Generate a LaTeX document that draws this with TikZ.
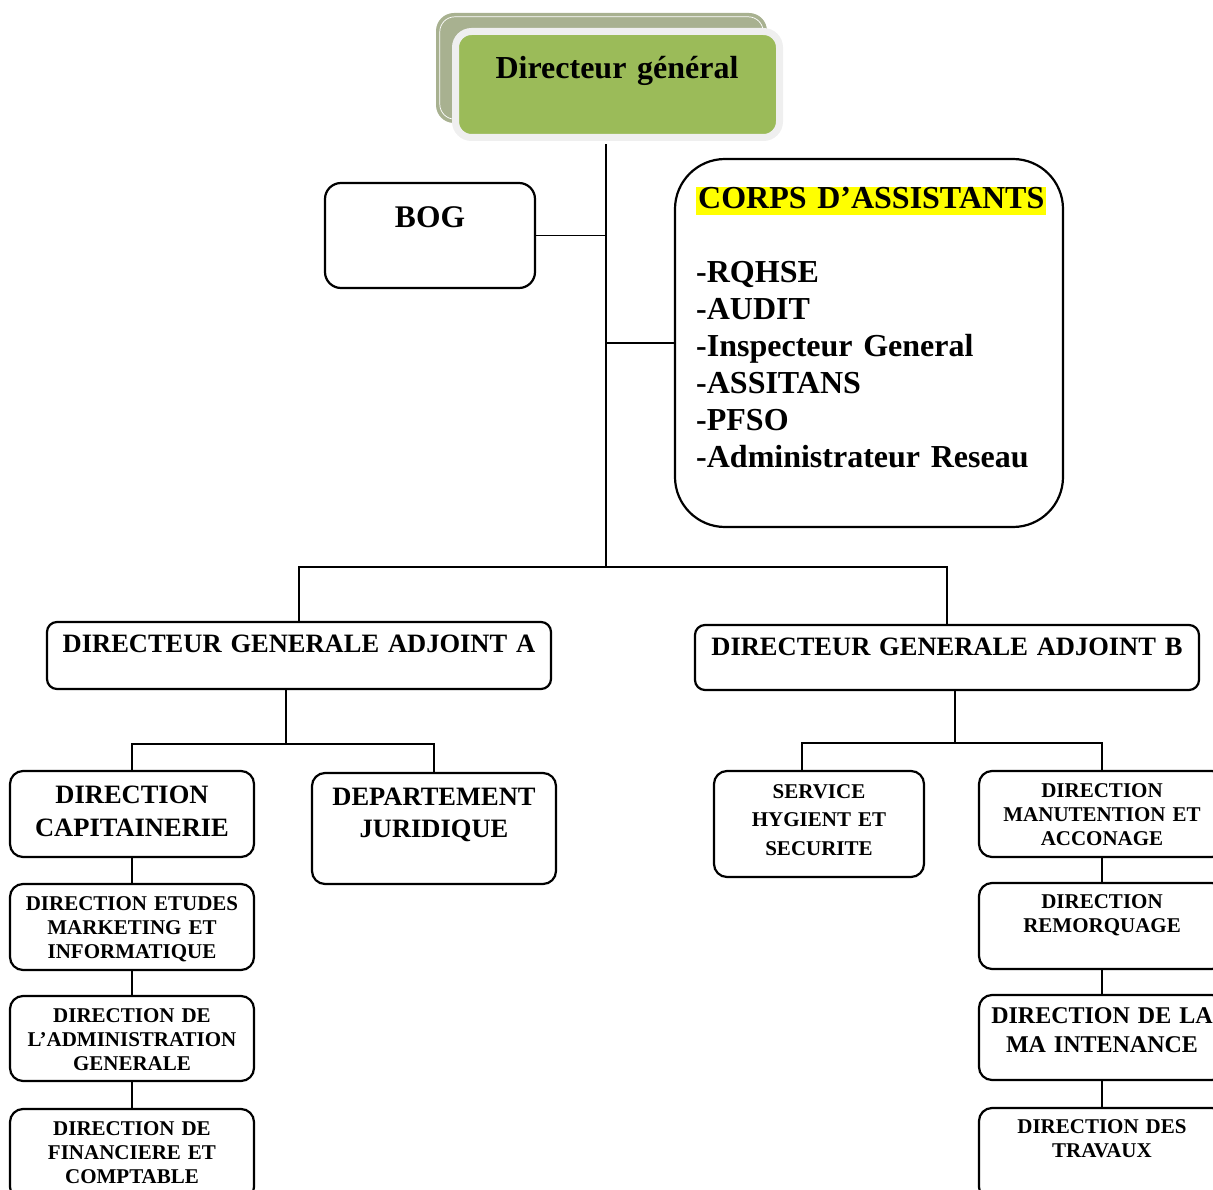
\documentclass[tikz,border=0pt]{standalone}
\usepackage{fontspec}
\setmainfont{Liberation Serif}
\definecolor{dggreen}{HTML}{9BBB59}
\definecolor{dgshadow}{HTML}{A8B190}
\definecolor{dgrim}{HTML}{EFEFEF}
\definecolor{mark}{HTML}{FFFF00}
\begin{document}
\begin{tikzpicture}[x=1pt,y=-1pt,
  box/.style={draw, line width=2.2pt, rounded corners=13pt, fill=white, inner sep=0pt},
  link/.style={line width=1.8pt},
  lbl/.style={inner sep=0pt, anchor=base, align=center, text width=#1},
  big/.style={font=\bfseries\fontsize{32}{37}\selectfont},
  mid/.style={font=\bfseries\fontsize{26.5}{33}\selectfont},
  small/.style={font=\bfseries\fontsize{21}{24}\selectfont},
]
\useasboundingbox (0,0) rectangle (1213,1190);
\clip (0,0) rectangle (1213,1190);

% junction points of the connector tree
\coordinate (hub) at (606,567);
\coordinate (aj) at (286,744);
\coordinate (bj) at (955,743);
\coordinate (sj) at (802,743);

% general director, with its offset backing card
\node[fill=dgshadow, rounded corners=18pt, minimum width=331pt, minimum height=110pt, inner sep=0pt] (dgback) at (601.5,68) {};
\draw[white, line width=0.7pt, rounded corners=15pt] ([shift={(4,4)}]dgback.north west) rectangle ([shift={(-4,-4)}]dgback.south east);
\node[fill=dggreen, draw=dgrim, line width=7pt, rounded corners=16pt, minimum width=324pt, minimum height=106pt, inner sep=0pt] (dg) at (617.5,84.5) {};
\node[lbl=320pt, big] (dg-t) at (617,79) {Directeur général};
\coordinate (dgfoot) at ([yshift=-3.5pt]dg.south);

% BOG and assistants
\node[box, rounded corners=16pt, minimum width=210pt, minimum height=105pt] (bog) at (430,235.5) {};
\node[lbl=200pt, font=\bfseries\fontsize{31.5}{37}\selectfont] (bog-t) at (430,228) {BOG};

\node[box, rounded corners=50pt, minimum width=388pt, minimum height=368pt] (corps) at (869,343) {};
\node[inner sep=0pt, anchor=base west, text width=360pt, align=left, big] (corps-t) at (696,209)
  {{\setlength{\fboxsep}{0pt}\colorbox{mark}{\rule[-6pt]{0pt}{28pt}\kern2pt CORPS D’ASSISTANTS\kern2pt}}\\[37pt]
   -RQHSE\\-AUDIT\\-Inspecteur General\\-ASSITANS\\-PFSO\\-Administrateur Reseau};

% deputy directors
\node[box, rounded corners=10pt, minimum width=504pt, minimum height=67pt] (adjA) at (299,655.5) {};
\node[lbl=500pt, mid] (adjA-t) at (299,652) {DIRECTEUR GENERALE ADJOINT A};
\node[box, rounded corners=10pt, minimum width=504pt, minimum height=65pt] (adjB) at (947,657.5) {};
\node[lbl=500pt, mid] (adjB-t) at (947,655) {DIRECTEUR GENERALE ADJOINT B};

% branch A
\node[box, minimum width=244pt, minimum height=86pt] (cap) at (132,814) {};
\node[lbl=240pt, mid] (cap-t) at (132,803) {DIRECTION\\CAPITAINERIE};
\node[box, minimum width=244pt, minimum height=111pt] (jur) at (434,828.5) {};
\node[lbl=240pt, font=\bfseries\fontsize{26.5}{32}\selectfont] (jur-t) at (434,805) {DEPARTEMENT\\JURIDIQUE};
\node[box, minimum width=244pt, minimum height=86pt] (etu) at (132,927) {};
\node[lbl=240pt, small] (etu-t) at (132,910) {DIRECTION ETUDES\\MARKETING ET\\INFORMATIQUE};
\node[box, minimum width=244pt, minimum height=85pt] (adm) at (132,1038.5) {};
\node[lbl=240pt, small] (adm-t) at (132,1022) {DIRECTION DE\\L’ADMINISTRATION\\GENERALE};
\node[box, minimum width=244pt, minimum height=91pt] (fin) at (132,1154.5) {};
\node[lbl=240pt, small] (fin-t) at (132,1135) {DIRECTION DE\\FINANCIERE ET\\COMPTABLE};

% branch B
\node[box, minimum width=210pt, minimum height=106pt] (svc) at (819,824) {};
\node[lbl=205pt, font=\bfseries\fontsize{21}{28.5}\selectfont] (svc-t) at (819,798) {SERVICE\\HYGIENT ET\\SECURITE};
\node[box, minimum width=246pt, minimum height=86pt] (manu) at (1102,814) {};
\node[lbl=240pt, small] (manu-t) at (1102,797) {DIRECTION\\MANUTENTION ET\\ACCONAGE};
\node[box, minimum width=246pt, minimum height=86pt] (rem) at (1102,926) {};
\node[lbl=240pt, small] (rem-t) at (1102,908) {DIRECTION\\REMORQUAGE};
\node[box, minimum width=246pt, minimum height=85pt] (maint) at (1102,1037.5) {};
\node[lbl=240pt, font=\bfseries\fontsize{24}{29}\selectfont] (maint-t) at (1102,1023) {DIRECTION DE LA\\MA INTENANCE};
\node[box, minimum width=246pt, minimum height=92pt] (trav) at (1102,1154) {};
\node[lbl=240pt, small] (trav-t) at (1102,1133) {DIRECTION DES\\TRAVAUX};

% connectors
\draw[link] (dgfoot -| hub) -- (hub);
\draw[link] (bog.east) -- (bog.east -| hub);
\draw[link] (corps.west) -- (corps.west -| hub);
\draw[link] (adjA.north) -- (adjA.north |- hub) -- (adjB.north |- hub) -- (adjB.north);
\draw[link] (adjA.south -| aj) -- (aj);
\draw[link] (cap.north) -- (cap.north |- aj) -- (jur.north |- aj) -- (jur.north);
\draw[link] (adjB.south -| bj) -- (bj);
\draw[link] (svc.north -| sj) -- (sj) -- (manu.north |- sj) -- (manu.north);
\draw[link] (cap) -- (etu);
\draw[link] (etu) -- (adm);
\draw[link] (adm) -- (fin);
\draw[link] (manu) -- (rem);
\draw[link] (rem) -- (maint);
\draw[link] (maint) -- (trav);
\end{tikzpicture}
\end{document}
